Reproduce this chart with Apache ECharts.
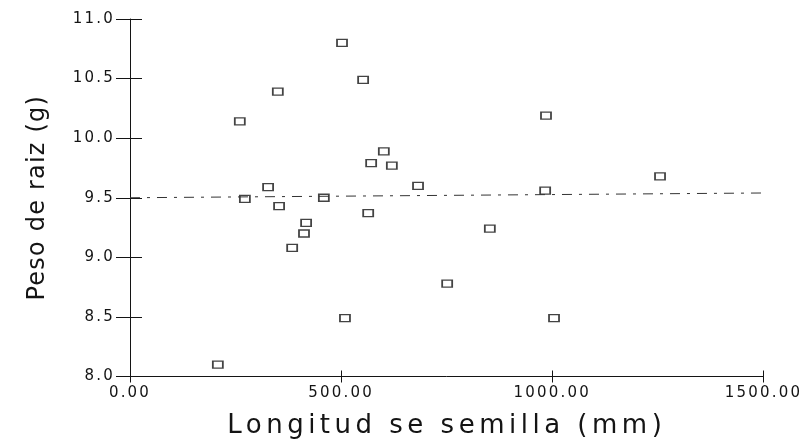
<!DOCTYPE html>
<html>
<head>
<meta charset="utf-8">
<script src="https://cdn.jsdelivr.net/npm/echarts@6/dist/echarts.min.js"></script>
<style>
html,body{margin:0;padding:0;background:#fff;width:805px;height:440px;overflow:hidden;}
#chart{width:805px;height:440px;}
</style>
</head>
<body>
<div id="chart"></div>
<script>
// Data
var seedLength = [208, 260, 350, 502, 552, 601, 571, 620, 682, 564, 985, 983, 1255, 327, 272, 353, 417, 412, 384, 459, 751, 509, 1004, 852];
var rootWeight = [8.10, 10.14, 10.39, 10.80, 10.49, 9.89, 9.79, 9.77, 9.60, 9.37, 10.19, 9.56, 9.68, 9.59, 9.49, 9.43, 9.29, 9.20, 9.08, 9.50, 8.78, 8.49, 8.49, 9.24];
var fitX = [0, 1500];
var fitY = [9.50, 9.54];
var xTicks = [0, 500, 1000, 1500];
var yTicks = [8.0, 8.5, 9.0, 9.5, 10.0, 10.5, 11.0];
var xTitle = 'Longitud se semilla (mm)';
var yTitle = 'Peso de raiz (g)';

// The reference typesetting is widely letter-spaced; apply spacing per font size.
(function () {
  var proto = CanvasRenderingContext2D.prototype;
  var orig = proto.fillText;
  proto.fillText = function (t, x, y, m) {
    var f = this.font || '';
    var ls = '0px';
    if (/(^|\s)26px/.test(f)) ls = '4.5px';
    else if (/(^|\s)24px/.test(f)) ls = '1.2px';
    else if (/(^|\s)15px/.test(f)) ls = '2.2px';
    if ('letterSpacing' in this) this.letterSpacing = ls;
    return m === undefined ? orig.call(this, t, x, y) : orig.call(this, t, x, y, m);
  };
})();

var points = seedLength.map(function (x, i) { return [x, rootWeight[i]]; });
var fitLine = fitX.map(function (x, i) { return [x, fitY[i]]; });

var ink = '#141414';
var font = 'DejaVu Sans';

var chart = echarts.init(document.getElementById('chart'), null, { renderer: 'canvas', width: 805, height: 440 });
chart.setOption({
  animation: false,
  backgroundColor: '#ffffff',
  grid: { left: 130, right: 41.5, top: 19, bottom: 63.5, containLabel: false, outerBoundsMode: 'none' },
  xAxis: [{
    type: 'value', min: xTicks[0], max: xTicks[xTicks.length - 1], interval: 500,
    axisLine: { lineStyle: { color: ink, width: 1 } },
    axisTick: { show: true, length: 6, lineStyle: { color: ink } },
    splitLine: { show: false },
    axisLabel: { margin: 9, color: ink, fontFamily: font, fontSize: 15,
      formatter: function (v) { return v.toFixed(2); } },
    name: xTitle, nameLocation: 'middle', nameGap: 37,
    nameTextStyle: { color: ink, fontFamily: font, fontSize: 26 }
  }, {
    type: 'value', min: xTicks[0], max: xTicks[xTicks.length - 1], interval: 500,
    position: 'bottom',
    axisLine: { show: false },
    axisTick: { show: true, inside: true, length: 6, lineStyle: { color: ink } },
    axisLabel: { show: false }, splitLine: { show: false }
  }],
  yAxis: [{
    type: 'value', min: yTicks[0], max: yTicks[yTicks.length - 1], interval: 0.5,
    axisLine: { show: true, lineStyle: { color: ink, width: 1 } },
    axisTick: { show: true, length: 14, lineStyle: { color: ink } },
    splitLine: { show: false },
    axisLabel: { margin: 15, color: ink, fontFamily: font, fontSize: 15,
      formatter: function (v) { return v.toFixed(1); } },
    name: yTitle, nameLocation: 'middle', nameGap: 80, nameRotate: 90,
    nameTextStyle: { color: ink, fontFamily: font, fontSize: 24 }
  }, {
    type: 'value', min: yTicks[0], max: yTicks[yTicks.length - 1], interval: 0.5,
    position: 'left',
    axisLine: { show: false },
    axisTick: { show: true, inside: true, length: 12, lineStyle: { color: ink } },
    axisLabel: { show: false }, splitLine: { show: false }
  }],
  series: [{
    type: 'line', data: fitLine, xAxisIndex: 0, yAxisIndex: 0,
    symbol: 'none', silent: true,
    lineStyle: { color: '#333', width: 1, type: [10, 7, 3, 7] }
  }, {
    type: 'scatter', data: points, xAxisIndex: 0, yAxisIndex: 0,
    symbol: 'rect', symbolSize: [10, 7],
    itemStyle: { color: '#ffffff', borderColor: ink, borderWidth: 1.5 }
  }]
});
</script>
</body>
</html>
